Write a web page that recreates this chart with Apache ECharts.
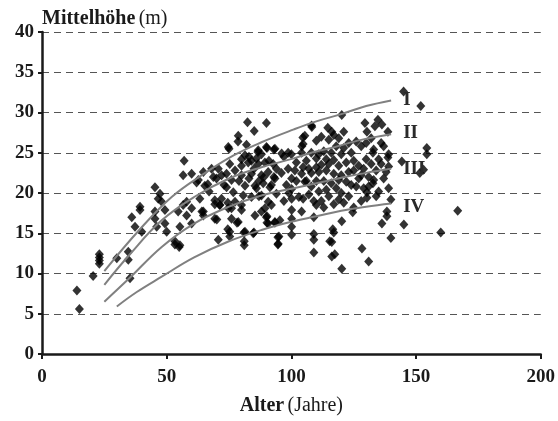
<!DOCTYPE html>
<html>
<head>
<meta charset="utf-8">
<script src="https://cdn.jsdelivr.net/npm/echarts@6/dist/echarts.min.js"></script>
<style>
  html, body { margin: 0; padding: 0; background: #fff; }
  #chart { width: 558px; height: 421px; }
</style>
</head>
<body>
<div id="chart"></div>
<script>
// Messpunkte: [Alter (Jahre), Mittelhöhe (m)]
const stands = [
  [14, 7.9], [15, 5.6], [20.5, 9.7], [23, 11.2], [23, 11.6], [23, 12.0], [23, 12.4],
  [30, 11.9], [34.6, 12.7], [34.6, 11.7], [35.3, 9.4], [36, 17.0], [37.3, 15.8],
  [39.3, 18.3], [39.3, 17.9], [40, 15.2],
  [45.3, 20.7], [47.3, 19.9], [46.6, 19.3], [48, 18.9], [45.3, 17.7], [49.3, 17.9],
  [49.3, 16.2], [46, 15.8], [50, 15.2], [54.6, 17.7], [55.3, 15.8], [56.6, 18.5],
  [58, 18.9], [60, 18.1], [58, 17.2], [60, 16.2], [63.3, 19.3], [64.7, 17.7],
  [64.7, 17.2], [69.3, 16.8], [71.3, 18.5], [74.7, 18.1], [76, 16.8], [78.7, 16.4],
  [80, 17.9], [85.4, 17.2], [88, 17.7], [45.3, 16.8], [53.3, 14.0], [55.3, 13.5],
  [53.3, 13.6], [55, 13.3],
  [57, 24.0], [56.6, 22.2], [60, 22.4], [64.7, 22.6], [62.7, 21.6], [65.3, 20.9],
  [68.7, 22.0], [70.7, 23.0], [70, 21.8], [72, 22.2], [74, 22.4], [77.4, 22.8],
  [80, 23.4], [82.7, 23.8], [86.7, 23.6], [89.4, 23.8], [92.7, 23.6], [80, 22.2],
  [84, 22.4], [88, 22.2], [90.7, 22.6], [93.4, 21.8], [81.4, 20.9], [85.4, 20.9],
  [88.7, 21.2], [91.4, 20.7], [80.7, 19.7], [84, 19.5], [88, 19.7], [90.7, 18.9],
  [94, 19.9], [80, 18.5], [77.4, 18.9], [76, 18.1], [71.3, 18.5], [72, 19.3],
  [69.3, 19.1], [76.7, 20.1], [74, 20.7], [89.4, 18.1], [90, 17.0], [90.7, 16.2],
  [93.4, 16.4], [95.4, 16.6], [81.4, 15.2], [81.1, 14.0], [81.1, 13.5], [84.7, 15.0],
  [70.7, 14.2], [75.3, 15.2], [75.3, 14.6], [95, 14.6], [94.7, 13.7],
  [100.1, 14.8], [100.1, 15.8], [100.1, 16.8], [100.1, 17.9], [100.1, 19.3],
  [100.1, 20.5], [100.1, 21.8], [104.1, 17.7], [104.7, 19.3], [105.4, 21.4],
  [104.1, 22.4], [101.4, 22.8], [98.7, 23.0], [102, 23.8], [104.7, 23.2], [104.1, 25.0],
  [98.7, 25.0], [96.1, 24.9], [104.7, 26.1], [108.1, 28.4], [105.4, 27.1], [93.4, 25.5],
  [90, 25.7], [86.7, 25.3], [81.4, 24.7], [80, 24.2],
  [82.4, 28.8], [85.1, 27.7], [90, 28.7], [78.7, 27.1], [74.7, 25.7], [75.3, 23.6],
  [78.6, 26.4], [75, 25.5], [62, 21.3], [66.5, 21.1], [67, 20.2], [68, 23.0],
  [73, 21.0], [76, 21.6], [79, 21.5], [83, 21.8], [85, 23.0], [86, 20.6], [87, 21.5],
  [87, 19.6], [89, 22.0], [92, 21.0], [92, 18.5], [93, 22.0], [94, 23.0], [96, 22.5],
  [97, 19.0], [98, 21.0], [99, 20.0], [83, 24.5], [84, 24.0], [86, 24.3], [88, 24.8],
  [91, 24.0], [97, 24.5], [100, 24.8], [86.6, 25.1], [90.2, 25.6], [93, 25.4],
  [82, 26.0], [64.1, 17.7], [69.3, 18.6], [74.5, 18.8], [78.2, 16.3], [70.1, 16.7],
  [74.5, 15.5], [81, 15.1], [85, 15.1], [94.6, 14.5], [94.6, 13.6], [90.2, 16.3],
  [93.4, 16.3], [90.2, 17.1],
  [102, 21.5], [103, 19.5], [104.6, 26.9], [104.2, 25.8], [106, 24.0], [106, 21.5],
  [107, 23.0], [107, 19.8], [108.2, 28.2], [108, 25.0], [108, 22.5], [108, 20.8],
  [109, 12.6], [109, 14.2], [109, 14.9], [109, 17.0], [109, 19.0], [110, 24.3],
  [110, 21.5], [110, 23.2], [110, 18.5], [110, 26.5], [111, 24.8], [111, 22.6],
  [111, 20.2], [112, 27.0], [112, 23.5], [112, 19.0], [113, 25.2], [113, 21.5],
  [113, 18.2], [114, 24.2], [114, 22.8], [114, 20.4], [114.6, 28.1], [115, 26.6],
  [115, 23.6], [115, 19.6], [115.4, 14.0], [116, 25.0], [116, 21.2], [116.2, 27.6],
  [116.6, 15.5], [117, 15.1], [116.2, 13.9], [116.2, 12.1], [117.4, 12.4],
  [117, 27.2], [117, 24.1], [117, 22.4], [117, 18.6], [118, 25.8], [118, 20.6],
  [119, 26.8], [119, 23.4], [119, 21.6], [119, 19.2], [120.2, 29.7], [120, 24.8],
  [120, 22.2], [120, 20.0], [120.2, 16.5], [120.2, 10.6], [121, 27.6], [121, 25.6],
  [121, 18.8], [122, 23.8], [122, 21.4], [123, 26.2], [123, 22.6], [123, 19.6],
  [124, 25.0], [124, 21.0], [124.6, 17.6], [125, 24.0], [125, 22.8], [125, 18.2],
  [126, 26.4], [126, 20.8], [127, 23.4], [127, 21.8], [128, 25.8], [128, 22.2],
  [128, 19.0], [128.3, 13.1], [129, 23.0], [129, 20.6], [129.5, 28.7], [130, 26.2],
  [130, 24.2], [130.3, 27.6], [130.3, 20.1], [130.3, 19.4], [131, 22.0], [131, 20.8],
  [131, 11.5], [132, 26.8], [132, 23.6], [132.7, 25.0], [132.7, 21.2], [133, 25.4],
  [133, 21.6], [133.5, 28.3], [134, 22.8], [134, 19.6], [134.7, 29.1], [135, 24.2],
  [135, 20.2], [136, 26.2], [136, 23.6], [136.3, 28.5], [136.3, 16.2], [137, 21.8],
  [137, 25.8], [138, 22.6], [138.7, 27.6], [138.7, 24.4], [138.3, 17.7], [138.3, 17.1],
  [139, 24.8], [139, 23.3], [139, 20.6], [139.9, 19.2], [139.9, 14.4],
  [144.3, 23.9], [145, 32.6], [145.1, 16.1], [151.5, 22.5], [151.9, 30.8],
  [153, 22.9], [154.3, 25.6], [154.3, 24.8], [159.9, 15.1], [166.7, 17.8]
];

// Bonitätskurven I–IV
const curveI = [[25, 10.3], [39, 15.4], [52, 19.5], [65, 22.4], [77, 24.7], [88, 26.3], [101, 27.9], [110, 28.9], [120, 29.8], [130, 30.8], [140, 31.5]];
const curveII = [[25, 8.6], [35, 12.3], [48, 16.6], [61, 19.5], [75, 21.8], [88, 23.2], [101, 24.3], [109, 25.1], [116, 25.6], [128, 26.6], [140, 27.3]];
const curveIII = [[25, 6.5], [35, 9.4], [48, 13.3], [61, 16.2], [75, 18.3], [88, 19.7], [101, 20.6], [110, 21.2], [120, 21.9], [130, 22.5], [140, 23.0]];
const curveIV = [[30, 5.9], [38, 7.7], [48, 9.6], [61, 12.0], [75, 14.0], [88, 15.4], [101, 16.5], [110, 17.1], [120, 17.8], [130, 18.3], [140, 18.7]];

const serif = '"Liberation Serif", "DejaVu Serif", serif';

function curve(name, data, dy) {
  return {
    name: name,
    type: 'line',
    data: data,
    smooth: 0.4,
    symbol: 'none',
    z: 5,
    lineStyle: { color: '#808080', width: 2 },
    endLabel: {
      show: true,
      formatter: name,
      distance: 12,
      offset: [0, dy],
      fontFamily: serif,
      fontSize: 19,
      fontWeight: 'bold',
      color: '#2a2a2a'
    }
  };
}

const myChart = echarts.init(document.getElementById('chart'), null, { renderer: 'canvas' });
const option = {
  animation: false,
  backgroundColor: '#fff',
  grid: { left: 42, right: 17, top: 32, bottom: 66 },
  xAxis: {
    type: 'value',
    min: 0,
    max: 200,
    interval: 50,
    name: '{b|Alter} {r|(Jahre)}',
    nameLocation: 'middle',
    nameGap: 42,
    nameTextStyle: {
      rich: {
        b: { fontFamily: serif, fontSize: 20, fontWeight: 'bold', color: '#1a1a1a' },
        r: { fontFamily: serif, fontSize: 20, color: '#1a1a1a' }
      }
    },
    axisLine: { lineStyle: { color: '#1a1a1a', width: 2.5 } },
    axisTick: { show: true, inside: false, length: 5, lineStyle: { color: '#1a1a1a', width: 2 } },
    axisLabel: { fontFamily: serif, fontSize: 19, fontWeight: 'bold', color: '#1a1a1a', margin: 14 },
    splitLine: { show: false }
  },
  yAxis: {
    type: 'value',
    min: 0,
    max: 40,
    interval: 5,
    name: '{b|Mittelhöhe} {r|(m)}',
    nameLocation: 'end',
    nameGap: 3,
    nameTextStyle: {
      align: 'left',
      rich: {
        b: { fontFamily: serif, fontSize: 20, fontWeight: 'bold', color: '#1a1a1a' },
        r: { fontFamily: serif, fontSize: 20, color: '#1a1a1a' }
      }
    },
    axisLine: { show: true, lineStyle: { color: '#1a1a1a', width: 2.5 } },
    axisTick: { show: true, inside: false, length: 4, lineStyle: { color: '#1a1a1a', width: 2 } },
    axisLabel: { fontFamily: serif, fontSize: 19, fontWeight: 'bold', color: '#1a1a1a', margin: 8 },
    splitLine: { show: true, lineStyle: { color: '#555', width: 1.2, type: [7, 5] } }
  },
  series: [
    {
      name: 'Bestände',
      type: 'scatter',
      data: stands,
      symbol: 'diamond',
      symbolSize: [9, 10],
      z: 3,
      itemStyle: { color: '#000' }
    },
    curve('I', curveI, 0),
    curve('II', curveII, -1),
    curve('III', curveIII, 0),
    curve('IV', curveIV, 4)
  ]
};
myChart.setOption(option);
</script>
</body>
</html>
